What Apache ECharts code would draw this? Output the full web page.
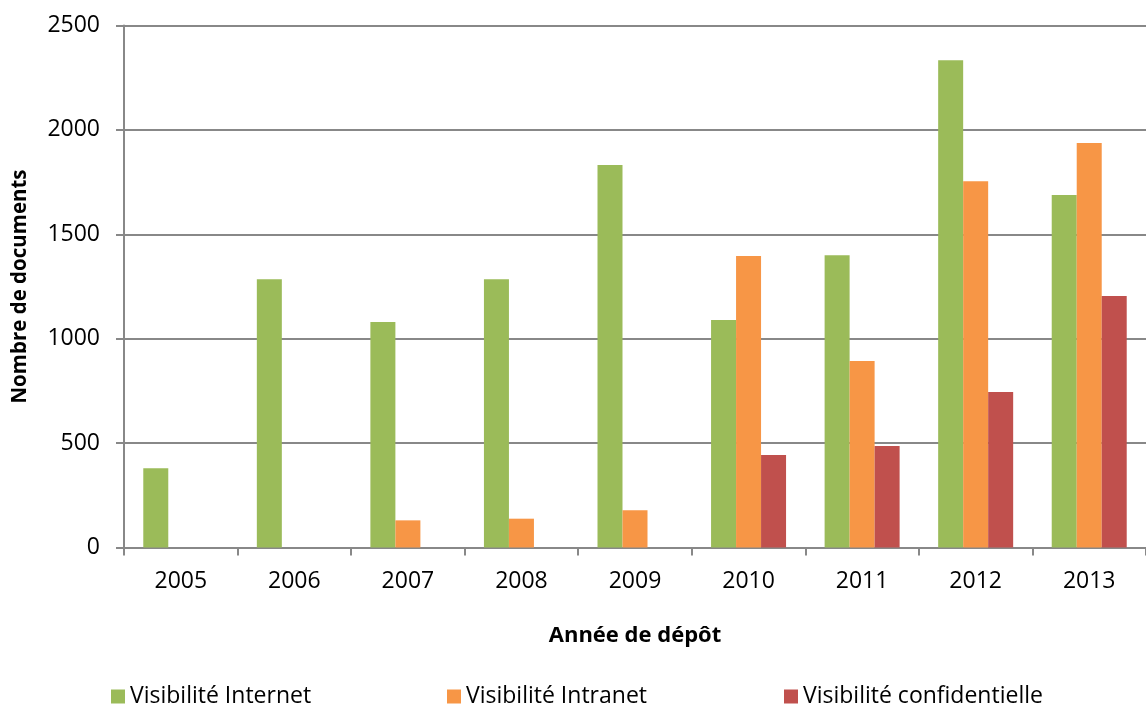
<!DOCTYPE html>
<html>
<head>
<meta charset="utf-8">
<script src="https://cdn.jsdelivr.net/npm/echarts@6/dist/echarts.min.js"></script>
<style>
  html, body { margin: 0; padding: 0; background: #fff; }
  #chart { width: 1146px; height: 704px; }
</style>
</head>
<body>
<div id="chart"></div>
<script>
  // données
  const years = ['2005', '2006', '2007', '2008', '2009', '2010', '2011', '2012', '2013']
  const internet = [380, 1285, 1080, 1285, 1832, 1090, 1400, 2333, 1688]
  const intranet = [0, 0, 130, 138, 178, 1396, 893, 1754, 1937]
  const confidentielle = [0, 0, 0, 0, 0, 443, 486, 745, 1204]
  const seriesNames = ['Visibilité Internet', 'Visibilité Intranet', 'Visibilité confidentielle']
  const colors = ['#9BBB59', '#F79646', '#C0504D']
  const font = '"Open Sans", "Liberation Sans", sans-serif'

  let myChart = echarts.init(document.getElementById('chart'))

  let legendLeft = [106, 442, 779]
  let legends = seriesNames.map((name, i) => ({
    data: [name],
    left: legendLeft[i],
    top: 680,
    icon: 'rect',
    itemWidth: 14,
    itemHeight: 14,
    itemGap: 6,
    textStyle: { fontFamily: font, fontSize: 23, color: '#000' }
  }))

  let makeSeries = (name, data, i) => ({
    name: name,
    type: 'bar',
    data: data,
    barWidth: 25,
    barGap: '0%',
    itemStyle: { color: colors[i] },
    emphasis: { disabled: true }
  })

  myChart.setOption({
    animation: false,
    legend: legends,
    grid: {
      left: 124,
      top: 25.5,
      width: 1028,
      height: 522
    },
    xAxis: {
      type: 'category',
      data: years,
      name: 'Année de dépôt',
      nameLocation: 'middle',
      nameGap: 77,
      nameTextStyle: { fontFamily: font, fontSize: 22, fontWeight: 'bold', color: '#000' },
      axisLine: { lineStyle: { color: '#888', width: 2 } },
      axisTick: { show: true, length: 8, lineStyle: { color: '#888', width: 2 } },
      axisLabel: { fontFamily: font, fontSize: 23, color: '#000', margin: 22 }
    },
    yAxis: {
      type: 'value',
      min: 0,
      max: 2500,
      interval: 500,
      name: 'Nombre de documents',
      nameLocation: 'middle',
      nameGap: 93,
      nameTextStyle: { fontFamily: font, fontSize: 20.5, fontWeight: 'bold', color: '#000' },
      axisLine: { show: true, lineStyle: { color: '#888', width: 2 } },
      axisTick: { show: true, length: 8, lineStyle: { color: '#888', width: 2 } },
      axisLabel: { fontFamily: font, fontSize: 23, color: '#000', margin: 24, formatter: v => String(v) },
      splitLine: { lineStyle: { color: '#888', width: 2 } }
    },
    series: [
      makeSeries(seriesNames[0], internet, 0),
      makeSeries(seriesNames[1], intranet, 1),
      makeSeries(seriesNames[2], confidentielle, 2)
    ]
  })
</script>
</body>
</html>
